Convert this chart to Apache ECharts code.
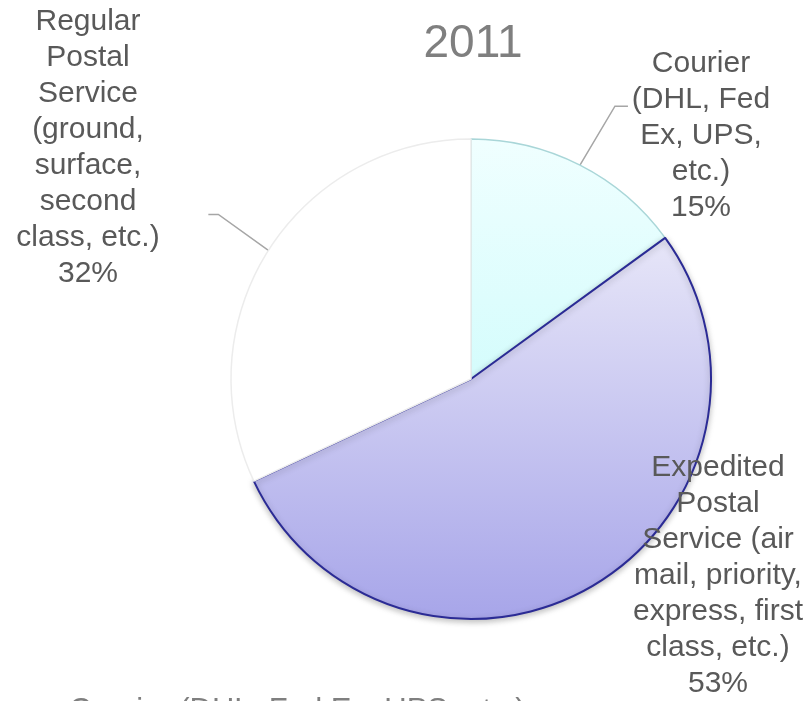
<!DOCTYPE html>
<html>
<head>
<meta charset="utf-8">
<title>2011</title>
<script src="https://cdn.jsdelivr.net/npm/echarts@6/dist/echarts.min.js"></script>
<style>
	html, body { margin: 0; padding: 0; background: #fff; }
	#chart { width: 810px; height: 701px; }
</style>
</head>
<body>
<div id="chart"></div>
<script>
// 数据
var titleText = '2011';
var categories = [
	'Courier (DHL, Fed Ex, UPS, etc.)',
	'Expedited Postal Service (air mail, priority, express, first class, etc.)',
	'Regular Postal Service (ground, surface, second class, etc.)'
];
var values = [15, 53, 32];
// 标签换行文本
var labelTexts = [
	'Courier\n(DHL, Fed\nEx, UPS,\netc.)',
	'Expedited\nPostal\nService (air\nmail, priority,\nexpress, first\nclass, etc.)',
	'Regular\nPostal\nService\n(ground,\nsurface,\nsecond\nclass, etc.)'
];

var textColor = '#595959';
var titleColor = '#7f7f7f';

// 扇区样式
var sliceStyles = [
	{
		color: new echarts.graphic.LinearGradient(0, 0, 0, 1, [
			{offset: 0, color: '#f0ffff'},
			{offset: 1, color: '#d4fcfc'}
		]),
		borderColor: '#a9d6d8',
		borderWidth: 1.5
	},
	{
		color: new echarts.graphic.LinearGradient(0, 0, 0, 1, [
			{offset: 0, color: '#e7e6f8'},
			{offset: 1, color: '#a7a5e9'}
		]),
		borderColor: '#2b2b95',
		borderWidth: 2,
		shadowBlur: 6,
		shadowOffsetY: 2,
		shadowColor: 'rgba(0, 0, 0, 0.25)'
	},
	{
		color: '#ffffff',
		borderColor: '#ececec',
		borderWidth: 1.5
	}
];

// 标签位置 (中心点) 与引导线折点偏移
var labelPos = [
	{x: 701, y: 136, bend: [35, -59], tail: 13},
	{x: 718, y: 576},
	{x: 88, y: 148, bend: [-50, -36], tail: -10}
];

var pieData = values.map(function(v, i) {
	return {
		name: categories[i],
		value: v,
		itemStyle: sliceStyles[i],
		labelLine: {show: i !== 1}
	};
});

var myChart = echarts.init(document.getElementById('chart'));
var option = {
	animation: false,
	title: {
		text: titleText,
		left: 468,
		top: 16,
		textAlign: 'center',
		textStyle: {
			color: titleColor,
			fontSize: 46,
			fontWeight: 'normal',
			fontFamily: 'Liberation Sans, Arial, sans-serif'
		}
	},
	legend: {
		data: [categories[0]],
		left: 53,
		top: 696,
		padding: 0,
		itemWidth: 10,
		itemHeight: 14,
		itemGap: 5,
		itemStyle: {opacity: 0},
		textStyle: {
			color: titleColor,
			fontSize: 31,
			fontFamily: 'Liberation Sans, Arial, sans-serif'
		}
	},
	series: [{
		name: titleText,
		type: 'pie',
		center: [471, 379],
		radius: 240,
		startAngle: 90,
		clockwise: true,
		percentPrecision: 0,
		data: pieData,
		label: {
			show: true,
			color: textColor,
			fontSize: 30,
			lineHeight: 36,
			align: 'center',
			fontFamily: 'Liberation Sans, Arial, sans-serif',
			formatter: function(p) {
				return labelTexts[p.dataIndex] + '\n' + p.percent + '%';
			}
		},
		labelLine: {
			lineStyle: {color: '#a6a6a6', width: 1.5},
			length: 20,
			length2: 12
		},
		labelLayout: function(params) {
			var pos = labelPos[params.dataIndex];
			var res = {
				x: pos.x,
				y: pos.y,
				align: 'center',
				verticalAlign: 'middle'
			};
			// 引导线: 从扇区边缘起点出发
			if (pos.bend && params.labelLinePoints) {
				var p0 = params.labelLinePoints[0];
				var p1 = [p0[0] + pos.bend[0], p0[1] + pos.bend[1]];
				var p2 = [p1[0] + pos.tail, p1[1]];
				res.labelLinePoints = [p0, p1, p2];
			}
			return res;
		},
		emphasis: {disabled: true}
	}]
};
myChart.setOption(option);
</script>
</body>
</html>
